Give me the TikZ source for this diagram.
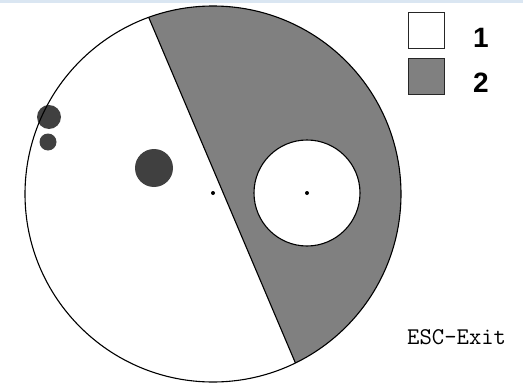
\documentclass[tikz,border=0pt]{standalone}
\usepackage{fontspec}
\usetikzlibrary{calc}
\newfontfamily\legfont{Liberation Sans}
\definecolor{zonegray}{HTML}{808080}
\definecolor{blobgray}{HTML}{404040}
\definecolor{barblue}{HTML}{DAE6F2}
\begin{document}
\begin{tikzpicture}[x=1pt,y=1pt,
  outline/.style={draw=black,line width=1.1pt},
  blob/.style={fill=blobgray},
  cdot/.style={fill=black},
  legbox/.style={draw=black!85,line width=1.4pt,minimum width=36pt,minimum height=36pt,inner sep=0pt},
  leglabel/.style={font=\legfont\bfseries\fontsize{28}{30}\selectfont,inner sep=0pt},
  exitlabel/.style={font=\ttfamily\fontsize{24}{26}\selectfont,inner sep=0pt}]
\useasboundingbox (0,0) rectangle (523,384);
\fill[white] (0,0) rectangle (523,384);
\fill[barblue] (0,381) rectangle (523,384);
% main circle centre
\coordinate (C) at (213,190);
\coordinate (P1) at ($(C)+(110:188)$);
\coordinate (P2) at ($(C)+(-64:188)$);
% gray zone
\fill[zonegray] (P1) arc[start angle=110,end angle=-64,radius=188] -- cycle;
% inner white circle
\coordinate (I) at (307,191);
\filldraw[fill=white,outline] (I) circle[radius=53];
% blobs
\fill[blob] (154,216) circle[radius=19];
\fill[blob] (49,267) circle[radius=12];
\fill[blob] (48,242) circle[radius=8.5];
% outlines
\draw[outline] (C) circle[radius=188];
\draw[outline] (P1) -- (P2);
% centre dots
\fill[cdot] (213,191) circle[radius=2];
\fill[cdot] (I) circle[radius=2];
% legend
\node[legbox,fill=white] (box1) at (426.5,353.5) {};
\node[legbox,fill=zonegray] (box2) at (426.5,307.5) {};
\node[leglabel] (lab1) at (481,346) {1};
\node[leglabel] (lab2) at (481,301) {2};
\node[exitlabel,anchor=base west] (exit) at (407,40) {ESC-Exit};
\end{tikzpicture}
\end{document}
